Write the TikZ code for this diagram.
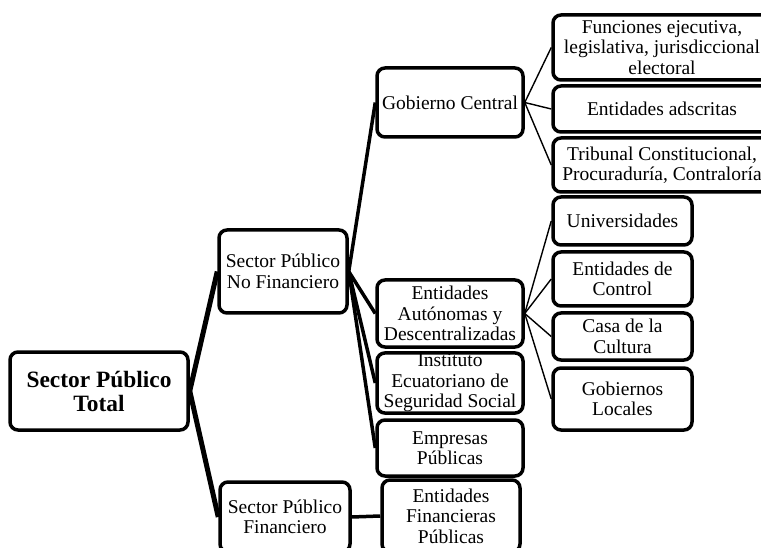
\documentclass[tikz,border=0pt]{standalone}
\usepackage{fontspec}
\setmainfont{Liberation Serif}
\begin{document}
\begin{tikzpicture}[x=1pt, y=-1pt,
      box/.style = {draw, line width=3.5pt, rounded corners=8pt, fill=white,
        align=center, inner sep=1pt, font=\fontsize{19.5}{20.5}\selectfont},
      trunk/.style = {line width=5pt},
      branch/.style = {line width=3.5pt},
      twig/.style = {line width=1.4pt}]
    \useasboundingbox (0,0) rectangle (761,548);
    \clip (0,0) rectangle (761,548);

    % nodes
    \node[box, minimum width=178, minimum height=78,
      font=\bfseries\fontsize{23.4}{24}\selectfont] (spt) at (99,391) {Sector Público\\Total};
    \node[box, minimum width=128, minimum height=83] (spnf) at (283,271.5) {Sector Público\\No Financiero};
    \node[box, minimum width=130, minimum height=70] (spf) at (285,517) {Sector Público\\Financiero};

    \node[box, minimum width=146, minimum height=69] (gc) at (450,102.5) {Gobierno Central};
    \node[box, minimum width=146, minimum height=67] (ead) at (450,313.5) {Entidades\\Autónomas y\\Descentralizadas};
    \node[box, minimum width=146, minimum height=60] (iess) at (450,383) {Instituto\\Ecuatoriano de\\Seguridad Social};
    \node[box, minimum width=146, minimum height=56] (ep) at (450,448) {Empresas\\Públicas};
    \node[box, minimum width=138, minimum height=72] (efp) at (451,516) {Entidades\\Financieras\\Públicas};

    \node[box, minimum width=218, minimum height=65] (fun) at (662,47.5) {Funciones ejecutiva,\\legislativa, jurisdiccional\\electoral};
    \node[box, minimum width=218, minimum height=46] (ads) at (662,109) {Entidades adscritas};
    \node[box, minimum width=218, minimum height=54] (trib) at (662,165) {Tribunal Constitucional,\\Procuraduría, Contraloría};

    \node[box, minimum width=139, minimum height=48] (univ) at (622.5,221) {Universidades};
    \node[box, minimum width=139, minimum height=54] (ctrl) at (622.5,279) {Entidades de\\Control};
    \node[box, minimum width=139, minimum height=47] (casa) at (622.5,336.5) {Casa de la\\Cultura};
    \node[box, minimum width=139, minimum height=62] (gl) at (622.5,399) {Gobiernos\\Locales};

    % edges
    \draw[trunk] (spt.east) to (spnf.west);
    \draw[trunk] (spt.east) to (spf.west);

    \draw[branch] (spnf.east) to (gc.west);
    \draw[branch] (spnf.east) to (ead.west);
    \draw[branch] (spnf.east) to (iess.west);
    \draw[branch] (spnf.east) to (ep.west);
    \draw[branch] (spf.east) to (efp.west);

    \draw[twig] (gc.east) to (fun.west);
    \draw[twig] (gc.east) to (ads.west);
    \draw[twig] (gc.east) to (trib.west);

    \draw[twig] (ead.east) to (univ.west);
    \draw[twig] (ead.east) to (ctrl.west);
    \draw[twig] (ead.east) to (casa.west);
    \draw[twig] (ead.east) to (gl.west);
  \end{tikzpicture}
\end{document}
